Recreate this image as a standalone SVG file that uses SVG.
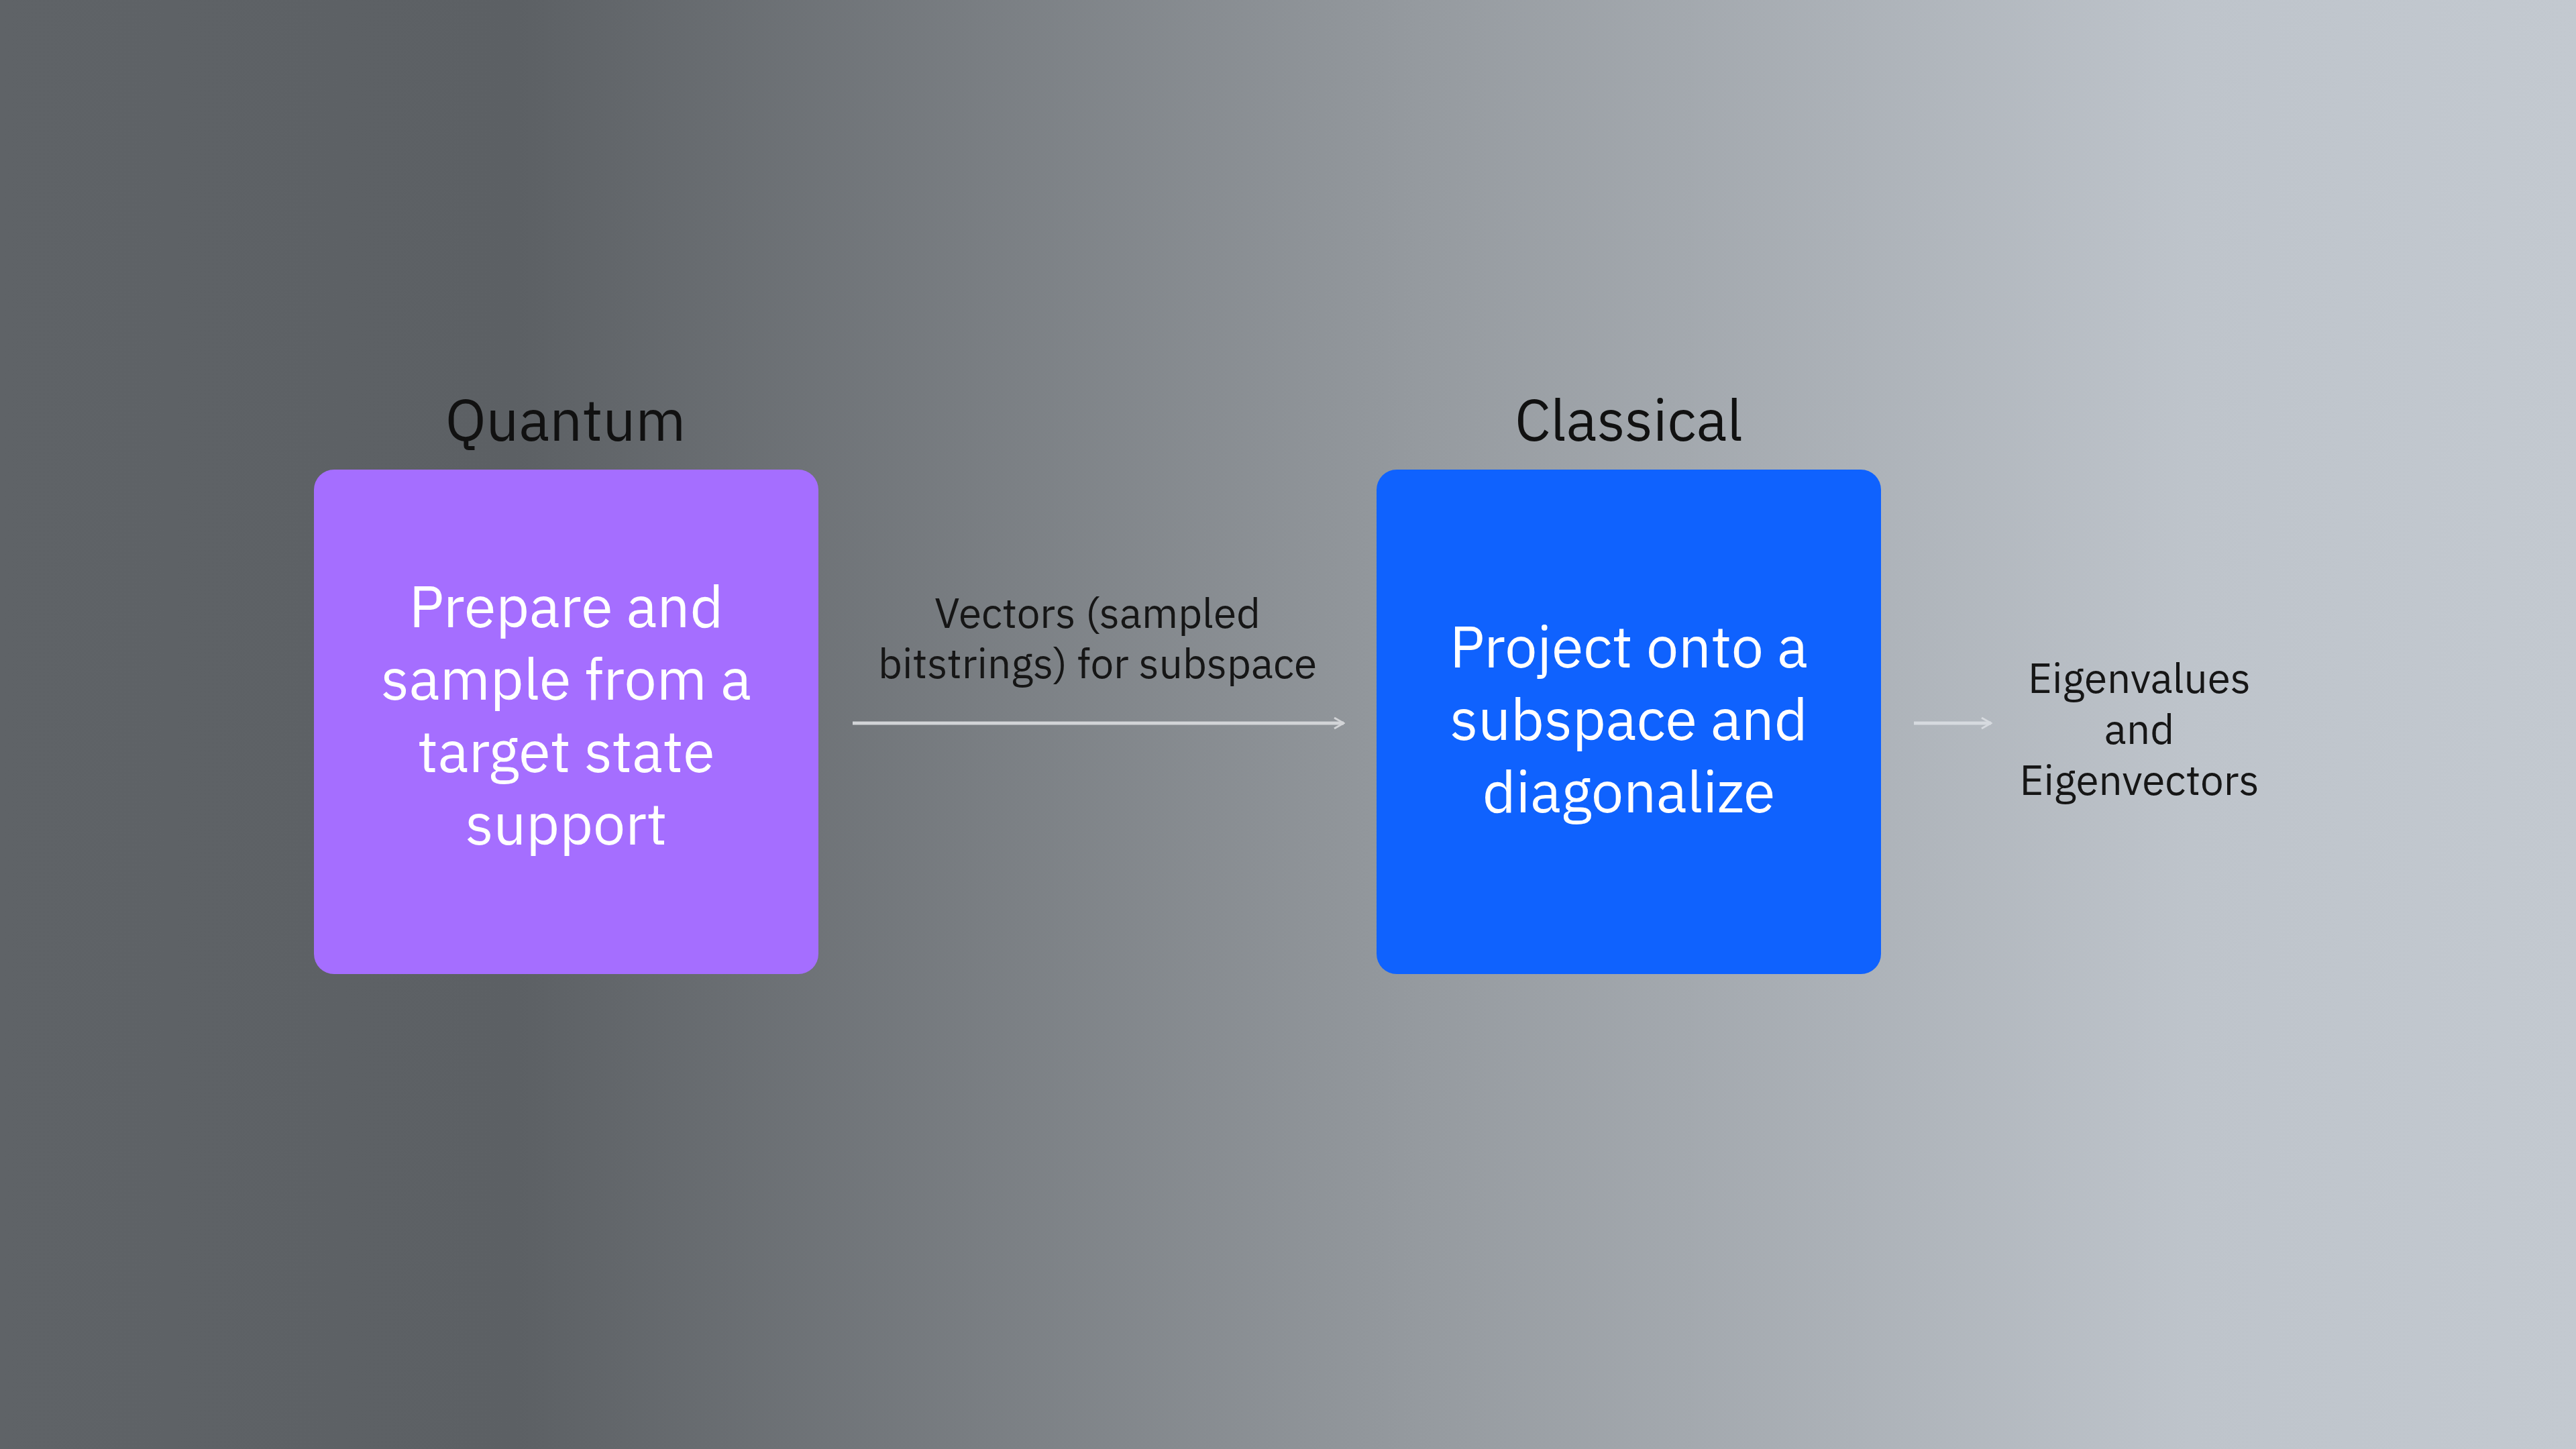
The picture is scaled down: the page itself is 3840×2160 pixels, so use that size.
<svg xmlns="http://www.w3.org/2000/svg" width="3840" height="2160" viewBox="0 0 3840 2160">
<defs>
<linearGradient id="bg" x1="0" y1="0" x2="1" y2="0">
<stop offset="0" stop-color="#5f6367"/>
<stop offset="0.2" stop-color="#5c6064"/>
<stop offset="0.55" stop-color="#959a9f"/>
<stop offset="0.85" stop-color="#bec4cb"/>
<stop offset="1" stop-color="#c3c9d0"/>
</linearGradient>
<marker id="ah" viewBox="0 0 20 20" refX="18" refY="10" markerWidth="20" markerHeight="20" markerUnits="userSpaceOnUse" orient="auto">
<path d="M4,2 L18,10 L4,18" fill="none" stroke="context-stroke" stroke-width="3"/>
</marker>
<style>
text{font-family:"IBM Plex Sans","Noto Sans","Liberation Sans",sans-serif;text-anchor:middle}
.title{font-size:86px;fill:#111}
.box{font-size:86px;fill:#fff}
.lbl{font-size:62px;fill:#161616}
</style>
</defs>
<rect width="3840" height="2160" fill="url(#bg)"/>
<g id="connectors">
<line x1="1271" y1="1078" x2="2003" y2="1078" stroke="#d2d4d7" stroke-width="5" marker-end="url(#ah)"/>
<line x1="2853" y1="1078" x2="2968" y2="1078" stroke="#d6dadf" stroke-width="5" marker-end="url(#ah)"/>
<text class="lbl" x="1636" y="936">Vectors (sampled</text>
<text class="lbl" x="1636" y="1011">bitstrings) for subspace</text>
</g>
<g id="quantum">
<text class="title" x="843" y="657">Quantum</text>
<rect x="468" y="700" width="752" height="752" rx="30" fill="#a56eff"/>
<text class="box" x="844" y="935">Prepare and</text>
<text class="box" x="844" y="1043">sample from a</text>
<text class="box" x="844" y="1151">target state</text>
<text class="box" x="844" y="1259">support</text>
</g>
<g id="classical">
<text class="title" x="2428" y="657">Classical</text>
<rect x="2052" y="700" width="752" height="752" rx="30" fill="#0f62fe"/>
<text class="box" x="2428" y="995">Project onto a</text>
<text class="box" x="2428" y="1103">subspace and</text>
<text class="box" x="2428" y="1211">diagonalize</text>
</g>
<g id="output">
<text class="lbl" x="3189" y="1033">Eigenvalues</text>
<text class="lbl" x="3189" y="1109">and</text>
<text class="lbl" x="3189" y="1185">Eigenvectors</text>
</g>
</svg>
